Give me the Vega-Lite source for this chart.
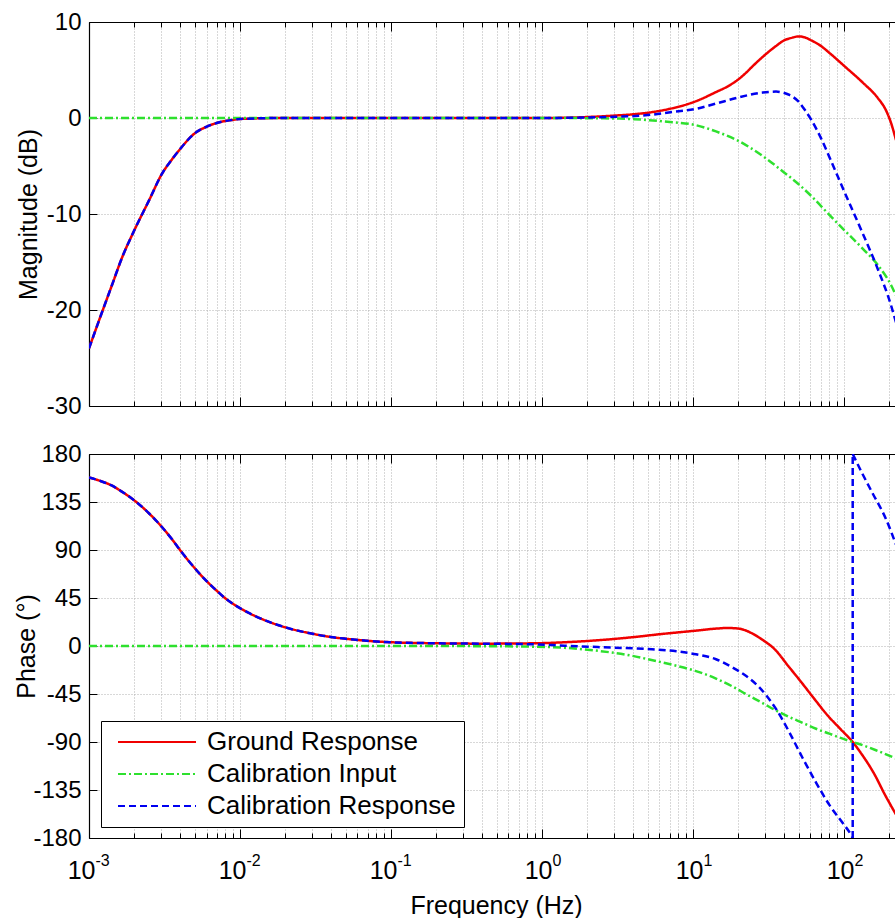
{
"$schema": "https://vega.github.io/schema/vega-lite/v6.json",
"padding": {"left": 14, "top": 10, "right": 0, "bottom": 0},
"bounds": "flush",
"spacing": 48,
"config": {
  "view": {"stroke": null},
  "font": "Liberation Sans",
  "axis": {"labelFont": "Liberation Sans", "titleFont": "Liberation Sans", "labelFontSize": 24, "titleFontSize": 25, "titleFontWeight": "normal", "labelColor": "#000", "titleColor": "#000", "tickColor": "#000", "domainColor": "#000", "domainWidth": 1.2, "tickWidth": 1, "gridColor": "#b0b0b0", "gridDash": [1, 2], "gridWidth": 1, "gridOpacity": 1, "labelFlush": false, "labelOverlap": false, "labelBound": false}
},
"resolve": {"legend": {"color": "independent", "strokeDash": "independent"}},
"datasets": {
"mag": [
{"s":"Ground Response","g":"a","i":0,"f":0.001,"v":-24.0},{"s":"Ground Response","g":"a","i":1,"f":0.0012023,"v":-20.5},{"s":"Ground Response","g":"a","i":2,"f":0.0014125,"v":-17.5},{"s":"Ground Response","g":"a","i":3,"f":0.0016596,"v":-14.5},{"s":"Ground Response","g":"a","i":4,"f":0.0019953,"v":-11.7},{"s":"Ground Response","g":"a","i":5,"f":0.0025119,"v":-8.5},{"s":"Ground Response","g":"a","i":6,"f":0.00302,"v":-5.9},{"s":"Ground Response","g":"a","i":7,"f":0.0035481,"v":-4.3},{"s":"Ground Response","g":"a","i":8,"f":0.0039811,"v":-3.3},{"s":"Ground Response","g":"a","i":9,"f":0.0050119,"v":-1.6},{"s":"Ground Response","g":"a","i":10,"f":0.0060256,"v":-0.9},{"s":"Ground Response","g":"a","i":11,"f":0.0070795,"v":-0.5},{"s":"Ground Response","g":"a","i":12,"f":0.0089125,"v":-0.2},{"s":"Ground Response","g":"a","i":13,"f":0.01,"v":-0.1},{"s":"Ground Response","g":"a","i":14,"f":0.019953,"v":0},{"s":"Ground Response","g":"a","i":15,"f":0.1,"v":0},{"s":"Ground Response","g":"a","i":16,"f":1,"v":0},{"s":"Ground Response","g":"a","i":17,"f":1.9953,"v":0.1},{"s":"Ground Response","g":"a","i":18,"f":3.02,"v":0.25},{"s":"Ground Response","g":"a","i":19,"f":3.9811,"v":0.38},{"s":"Ground Response","g":"a","i":20,"f":5.0119,"v":0.55},{"s":"Ground Response","g":"a","i":21,"f":6.7608,"v":0.9},{"s":"Ground Response","g":"a","i":22,"f":10.47,"v":1.75},{"s":"Ground Response","g":"a","i":23,"f":14.2,"v":2.7},{"s":"Ground Response","g":"a","i":24,"f":17,"v":3.3},{"s":"Ground Response","g":"a","i":25,"f":20.07,"v":4.05},{"s":"Ground Response","g":"a","i":26,"f":22.4,"v":4.7},{"s":"Ground Response","g":"a","i":27,"f":24.85,"v":5.4},{"s":"Ground Response","g":"a","i":28,"f":30.1,"v":6.6},{"s":"Ground Response","g":"a","i":29,"f":35.46,"v":7.5},{"s":"Ground Response","g":"a","i":30,"f":40.3,"v":8.1},{"s":"Ground Response","g":"a","i":31,"f":45,"v":8.35},{"s":"Ground Response","g":"a","i":32,"f":50.1,"v":8.5},{"s":"Ground Response","g":"a","i":33,"f":55,"v":8.4},{"s":"Ground Response","g":"a","i":34,"f":60.5,"v":8.1},{"s":"Ground Response","g":"a","i":35,"f":70.4,"v":7.5},{"s":"Ground Response","g":"a","i":36,"f":81.2,"v":6.7},{"s":"Ground Response","g":"a","i":37,"f":100.7,"v":5.4},{"s":"Ground Response","g":"a","i":38,"f":132.9,"v":3.7},{"s":"Ground Response","g":"a","i":39,"f":167.1,"v":2.1},{"s":"Ground Response","g":"a","i":40,"f":189.7,"v":0.8},{"s":"Ground Response","g":"a","i":41,"f":204.8,"v":-0.5},{"s":"Ground Response","g":"a","i":42,"f":221,"v":-2.3},
{"s":"Calibration Input","g":"a","i":0,"f":0.001,"v":0},{"s":"Calibration Input","g":"a","i":1,"f":0.01,"v":0},{"s":"Calibration Input","g":"a","i":2,"f":0.1,"v":0},{"s":"Calibration Input","g":"a","i":3,"f":1,"v":0},{"s":"Calibration Input","g":"a","i":4,"f":1.9953,"v":-0.02},{"s":"Calibration Input","g":"a","i":5,"f":3.1623,"v":-0.06},{"s":"Calibration Input","g":"a","i":6,"f":4.0738,"v":-0.12},{"s":"Calibration Input","g":"a","i":7,"f":6.7608,"v":-0.4},{"s":"Calibration Input","g":"a","i":8,"f":10.47,"v":-0.75},{"s":"Calibration Input","g":"a","i":9,"f":14.2,"v":-1.4},{"s":"Calibration Input","g":"a","i":10,"f":20.07,"v":-2.4},{"s":"Calibration Input","g":"a","i":11,"f":28.9,"v":-3.95},{"s":"Calibration Input","g":"a","i":12,"f":40.3,"v":-5.7},{"s":"Calibration Input","g":"a","i":13,"f":50.1,"v":-6.9},{"s":"Calibration Input","g":"a","i":14,"f":60.5,"v":-8.1},{"s":"Calibration Input","g":"a","i":15,"f":81.2,"v":-10.2},{"s":"Calibration Input","g":"a","i":16,"f":100.7,"v":-11.7},{"s":"Calibration Input","g":"a","i":17,"f":132.9,"v":-13.6},{"s":"Calibration Input","g":"a","i":18,"f":167.1,"v":-15.3},{"s":"Calibration Input","g":"a","i":19,"f":204.8,"v":-17.4},{"s":"Calibration Input","g":"a","i":20,"f":221,"v":-18.5},
{"s":"Calibration Response","g":"a","i":0,"f":0.001,"v":-24.0},{"s":"Calibration Response","g":"a","i":1,"f":0.0012023,"v":-20.5},{"s":"Calibration Response","g":"a","i":2,"f":0.0014125,"v":-17.5},{"s":"Calibration Response","g":"a","i":3,"f":0.0016596,"v":-14.5},{"s":"Calibration Response","g":"a","i":4,"f":0.0019953,"v":-11.7},{"s":"Calibration Response","g":"a","i":5,"f":0.0025119,"v":-8.5},{"s":"Calibration Response","g":"a","i":6,"f":0.00302,"v":-5.9},{"s":"Calibration Response","g":"a","i":7,"f":0.0035481,"v":-4.3},{"s":"Calibration Response","g":"a","i":8,"f":0.0039811,"v":-3.3},{"s":"Calibration Response","g":"a","i":9,"f":0.0050119,"v":-1.6},{"s":"Calibration Response","g":"a","i":10,"f":0.0060256,"v":-0.9},{"s":"Calibration Response","g":"a","i":11,"f":0.0070795,"v":-0.5},{"s":"Calibration Response","g":"a","i":12,"f":0.0089125,"v":-0.2},{"s":"Calibration Response","g":"a","i":13,"f":0.01,"v":-0.1},{"s":"Calibration Response","g":"a","i":14,"f":0.019953,"v":0},{"s":"Calibration Response","g":"a","i":15,"f":0.1,"v":0},{"s":"Calibration Response","g":"a","i":16,"f":1,"v":0},{"s":"Calibration Response","g":"a","i":17,"f":1.9953,"v":0.05},{"s":"Calibration Response","g":"a","i":18,"f":3.02,"v":0.12},{"s":"Calibration Response","g":"a","i":19,"f":5.0119,"v":0.3},{"s":"Calibration Response","g":"a","i":20,"f":7.0795,"v":0.6},{"s":"Calibration Response","g":"a","i":21,"f":10.47,"v":0.95},{"s":"Calibration Response","g":"a","i":22,"f":14.2,"v":1.5},{"s":"Calibration Response","g":"a","i":23,"f":20.07,"v":2.15},{"s":"Calibration Response","g":"a","i":24,"f":28.9,"v":2.65},{"s":"Calibration Response","g":"a","i":25,"f":35.46,"v":2.75},{"s":"Calibration Response","g":"a","i":26,"f":40.3,"v":2.6},{"s":"Calibration Response","g":"a","i":27,"f":43.5,"v":2.4},{"s":"Calibration Response","g":"a","i":28,"f":50.1,"v":1.7},{"s":"Calibration Response","g":"a","i":29,"f":55,"v":0.85},{"s":"Calibration Response","g":"a","i":30,"f":60.5,"v":-0.15},{"s":"Calibration Response","g":"a","i":31,"f":70.4,"v":-2.1},{"s":"Calibration Response","g":"a","i":32,"f":81.2,"v":-4.3},{"s":"Calibration Response","g":"a","i":33,"f":100.7,"v":-7.7},{"s":"Calibration Response","g":"a","i":34,"f":132.9,"v":-12.0},{"s":"Calibration Response","g":"a","i":35,"f":167.1,"v":-15.7},{"s":"Calibration Response","g":"a","i":36,"f":204.8,"v":-19.5},{"s":"Calibration Response","g":"a","i":37,"f":221,"v":-21.3}
],
"phase": [
{"s":"Ground Response","g":"a","i":0,"f":0.001,"v":158},{"s":"Ground Response","g":"a","i":1,"f":0.0012023,"v":154.5},{"s":"Ground Response","g":"a","i":2,"f":0.0014125,"v":150.5},{"s":"Ground Response","g":"a","i":3,"f":0.0016596,"v":144.5},{"s":"Ground Response","g":"a","i":4,"f":0.0019953,"v":136.5},{"s":"Ground Response","g":"a","i":5,"f":0.0025119,"v":124},{"s":"Ground Response","g":"a","i":6,"f":0.00302,"v":112},{"s":"Ground Response","g":"a","i":7,"f":0.0035481,"v":100},{"s":"Ground Response","g":"a","i":8,"f":0.0039811,"v":90.5},{"s":"Ground Response","g":"a","i":9,"f":0.0050119,"v":73},{"s":"Ground Response","g":"a","i":10,"f":0.0060256,"v":60.7},{"s":"Ground Response","g":"a","i":11,"f":0.0070795,"v":51.3},{"s":"Ground Response","g":"a","i":12,"f":0.0079433,"v":45},{"s":"Ground Response","g":"a","i":13,"f":0.0089125,"v":39.9},{"s":"Ground Response","g":"a","i":14,"f":0.01,"v":35.5},{"s":"Ground Response","g":"a","i":15,"f":0.014125,"v":25},{"s":"Ground Response","g":"a","i":16,"f":0.019953,"v":17.5},{"s":"Ground Response","g":"a","i":17,"f":0.0302,"v":11.5},{"s":"Ground Response","g":"a","i":18,"f":0.039811,"v":8.5},{"s":"Ground Response","g":"a","i":19,"f":0.050119,"v":6.8},{"s":"Ground Response","g":"a","i":20,"f":0.085114,"v":4.0},{"s":"Ground Response","g":"a","i":21,"f":0.18621,"v":2.6},{"s":"Ground Response","g":"a","i":22,"f":0.39811,"v":2.2},{"s":"Ground Response","g":"a","i":23,"f":0.85114,"v":2.5},{"s":"Ground Response","g":"a","i":24,"f":1.4125,"v":3.5},{"s":"Ground Response","g":"a","i":25,"f":2.3442,"v":5.4},{"s":"Ground Response","g":"a","i":26,"f":3.8905,"v":8.1},{"s":"Ground Response","g":"a","i":27,"f":6.166,"v":11.2},{"s":"Ground Response","g":"a","i":28,"f":10.47,"v":14.4},{"s":"Ground Response","g":"a","i":29,"f":14.2,"v":16.3},{"s":"Ground Response","g":"a","i":30,"f":17,"v":16.9},{"s":"Ground Response","g":"a","i":31,"f":20.07,"v":16.3},{"s":"Ground Response","g":"a","i":32,"f":22.4,"v":14.5},{"s":"Ground Response","g":"a","i":33,"f":24.85,"v":11.5},{"s":"Ground Response","g":"a","i":34,"f":28.6,"v":6.2},{"s":"Ground Response","g":"a","i":35,"f":35.0,"v":-3.5},{"s":"Ground Response","g":"a","i":36,"f":42.6,"v":-18.5},{"s":"Ground Response","g":"a","i":37,"f":52.2,"v":-34},{"s":"Ground Response","g":"a","i":38,"f":63.7,"v":-49.7},{"s":"Ground Response","g":"a","i":39,"f":77.8,"v":-65},{"s":"Ground Response","g":"a","i":40,"f":95,"v":-78},{"s":"Ground Response","g":"a","i":41,"f":114.2,"v":-90},{"s":"Ground Response","g":"a","i":42,"f":128.9,"v":-100},{"s":"Ground Response","g":"a","i":43,"f":158.7,"v":-120},{"s":"Ground Response","g":"a","i":44,"f":186,"v":-139},{"s":"Ground Response","g":"a","i":45,"f":221,"v":-158},
{"s":"Calibration Input","g":"a","i":0,"f":0.001,"v":0},{"s":"Calibration Input","g":"a","i":1,"f":0.01,"v":0},{"s":"Calibration Input","g":"a","i":2,"f":0.1,"v":0},{"s":"Calibration Input","g":"a","i":3,"f":0.31623,"v":-0.1},{"s":"Calibration Input","g":"a","i":4,"f":0.85114,"v":-0.6},{"s":"Calibration Input","g":"a","i":5,"f":1.4125,"v":-1.7},{"s":"Calibration Input","g":"a","i":6,"f":2.3442,"v":-4.5},{"s":"Calibration Input","g":"a","i":7,"f":3.8905,"v":-9},{"s":"Calibration Input","g":"a","i":8,"f":4.8978,"v":-12},{"s":"Calibration Input","g":"a","i":9,"f":6.166,"v":-15.2},{"s":"Calibration Input","g":"a","i":10,"f":7.7625,"v":-18.5},{"s":"Calibration Input","g":"a","i":11,"f":10.47,"v":-23.5},{"s":"Calibration Input","g":"a","i":12,"f":14.2,"v":-30.5},{"s":"Calibration Input","g":"a","i":13,"f":18.3,"v":-38},{"s":"Calibration Input","g":"a","i":14,"f":22.4,"v":-45},{"s":"Calibration Input","g":"a","i":15,"f":28.9,"v":-53.5},{"s":"Calibration Input","g":"a","i":16,"f":35.46,"v":-60.5},{"s":"Calibration Input","g":"a","i":17,"f":43.5,"v":-66.7},{"s":"Calibration Input","g":"a","i":18,"f":53.2,"v":-72},{"s":"Calibration Input","g":"a","i":19,"f":65.3,"v":-77.6},{"s":"Calibration Input","g":"a","i":20,"f":80,"v":-82.2},{"s":"Calibration Input","g":"a","i":21,"f":98.1,"v":-86.9},{"s":"Calibration Input","g":"a","i":22,"f":114.2,"v":-90},{"s":"Calibration Input","g":"a","i":23,"f":132.9,"v":-93},{"s":"Calibration Input","g":"a","i":24,"f":162.9,"v":-97.7},{"s":"Calibration Input","g":"a","i":25,"f":221,"v":-105.5},
{"s":"Calibration Response","g":"a","i":0,"f":0.001,"v":158},{"s":"Calibration Response","g":"a","i":1,"f":0.0012023,"v":154.5},{"s":"Calibration Response","g":"a","i":2,"f":0.0014125,"v":150.5},{"s":"Calibration Response","g":"a","i":3,"f":0.0016596,"v":144.5},{"s":"Calibration Response","g":"a","i":4,"f":0.0019953,"v":136.5},{"s":"Calibration Response","g":"a","i":5,"f":0.0025119,"v":124},{"s":"Calibration Response","g":"a","i":6,"f":0.00302,"v":112},{"s":"Calibration Response","g":"a","i":7,"f":0.0035481,"v":100},{"s":"Calibration Response","g":"a","i":8,"f":0.0039811,"v":90.5},{"s":"Calibration Response","g":"a","i":9,"f":0.0050119,"v":73},{"s":"Calibration Response","g":"a","i":10,"f":0.0060256,"v":60.7},{"s":"Calibration Response","g":"a","i":11,"f":0.0070795,"v":51.3},{"s":"Calibration Response","g":"a","i":12,"f":0.0079433,"v":45},{"s":"Calibration Response","g":"a","i":13,"f":0.0089125,"v":39.9},{"s":"Calibration Response","g":"a","i":14,"f":0.01,"v":35.5},{"s":"Calibration Response","g":"a","i":15,"f":0.014125,"v":25},{"s":"Calibration Response","g":"a","i":16,"f":0.019953,"v":17.5},{"s":"Calibration Response","g":"a","i":17,"f":0.0302,"v":11.5},{"s":"Calibration Response","g":"a","i":18,"f":0.039811,"v":8.5},{"s":"Calibration Response","g":"a","i":19,"f":0.050119,"v":6.8},{"s":"Calibration Response","g":"a","i":20,"f":0.085114,"v":4.0},{"s":"Calibration Response","g":"a","i":21,"f":0.18621,"v":2.6},{"s":"Calibration Response","g":"a","i":22,"f":0.39811,"v":2.2},{"s":"Calibration Response","g":"a","i":23,"f":0.85114,"v":1.6},{"s":"Calibration Response","g":"a","i":24,"f":1.4125,"v":0.3},{"s":"Calibration Response","g":"a","i":25,"f":2.3442,"v":-1.0},{"s":"Calibration Response","g":"a","i":26,"f":4.8978,"v":-2.8},{"s":"Calibration Response","g":"a","i":27,"f":7.7625,"v":-5},{"s":"Calibration Response","g":"a","i":28,"f":10.47,"v":-7.8},{"s":"Calibration Response","g":"a","i":29,"f":14.2,"v":-12.4},{"s":"Calibration Response","g":"a","i":30,"f":18.3,"v":-20.2},{"s":"Calibration Response","g":"a","i":31,"f":22.4,"v":-27.9},{"s":"Calibration Response","g":"a","i":32,"f":27.5,"v":-38.8},{"s":"Calibration Response","g":"a","i":33,"f":35.46,"v":-59},{"s":"Calibration Response","g":"a","i":34,"f":43.5,"v":-81},{"s":"Calibration Response","g":"a","i":35,"f":53.2,"v":-105},{"s":"Calibration Response","g":"a","i":36,"f":65.3,"v":-128},{"s":"Calibration Response","g":"a","i":37,"f":80,"v":-149},{"s":"Calibration Response","g":"a","i":38,"f":98.1,"v":-166},{"s":"Calibration Response","g":"a","i":39,"f":111.3,"v":-177},{"s":"Calibration Response","g":"a","i":40,"f":114.2,"v":-180},
{"s":"Calibration Response","g":"b","i":41,"f":114.2,"v":-180},{"s":"Calibration Response","g":"b","i":42,"f":114.2,"v":180},
{"s":"Calibration Response","g":"c","i":43,"f":114.2,"v":180},{"s":"Calibration Response","g":"c","i":44,"f":132.9,"v":161},{"s":"Calibration Response","g":"c","i":45,"f":154.9,"v":143},{"s":"Calibration Response","g":"c","i":46,"f":189.7,"v":119},{"s":"Calibration Response","g":"c","i":47,"f":221,"v":95}
]
},
"vconcat": [
{
  "width": 807, "height": 384,
  "data": {"name": "mag"},
  "resolve": {"axis": {"x": "independent", "y": "independent"}},
  "layer": [
    {
      "mark": {"type": "line", "strokeWidth": 2.5, "clip": true, "interpolate": "monotone"},
      "encoding": {
        "x": {"field": "f", "type": "quantitative", "scale": {"type": "log", "domain": [0.001, 221], "nice": false},
              "axis": {"orient": "bottom", "values": [0.001,0.002,0.003,0.004,0.005,0.006,0.007,0.008,0.009,0.01,0.02,0.03,0.04,0.05,0.06,0.07,0.08,0.09,0.1,0.2,0.3,0.4,0.5,0.6,0.7,0.8,0.9,1,2,3,4,5,6,7,8,9,10,20,30,40,50,60,70,80,90,100,200],
                       "grid": true, "labels": false, "title": null,
                       "tickSize": {"condition": {"test": "indexof([0.001,0.01,0.1,1,10,100], datum.value) >= 0", "value": -9}, "value": -5}}},
        "y": {"field": "v", "type": "quantitative", "scale": {"domain": [-30, 10], "nice": false, "zero": false},
              "axis": {"orient": "left", "values": [-30, -20, -10, 0, 10], "grid": true, "tickSize": -8, "labelPadding": 16, "labelExpr": "datum.value + ''",
                       "title": "Magnitude (dB)", "titleX": -61, "titleY": 192, "titleAngle": -90, "titleBaseline": "middle", "titleAlign": "center"}},
        "color": {"field": "s", "type": "nominal", "scale": {"domain": ["Ground Response", "Calibration Input", "Calibration Response"], "range": ["#f00000", "#2ee02e", "#0000f0"]}, "legend": null},
        "strokeDash": {"field": "s", "type": "nominal", "scale": {"domain": ["Ground Response", "Calibration Input", "Calibration Response"], "range": [[1, 0], [8, 3, 2, 3], [7, 4]]}, "legend": null},
        "detail": {"field": "g", "type": "nominal"},
        "order": {"field": "i", "type": "quantitative"}
      }
    },
    {
      "mark": {"type": "point", "opacity": 0},
      "encoding": {
        "x": {"field": "f", "type": "quantitative", "scale": {"type": "log", "domain": [0.001, 221], "nice": false},
              "axis": {"orient": "top", "values": [0.001,0.002,0.003,0.004,0.005,0.006,0.007,0.008,0.009,0.01,0.02,0.03,0.04,0.05,0.06,0.07,0.08,0.09,0.1,0.2,0.3,0.4,0.5,0.6,0.7,0.8,0.9,1,2,3,4,5,6,7,8,9,10,20,30,40,50,60,70,80,90,100,200],
                       "grid": false, "labels": false, "title": null,
                       "tickSize": {"condition": {"test": "indexof([0.001,0.01,0.1,1,10,100], datum.value) >= 0", "value": -9}, "value": -5}}},
        "y": {"field": "v", "type": "quantitative", "scale": {"domain": [-30, 10], "nice": false, "zero": false}, "axis": null}
      }
    }
  ]
},
{
  "width": 807, "height": 384,
  "data": {"name": "phase"},
  "resolve": {"axis": {"x": "independent", "y": "independent"}},
  "layer": [
    {
      "mark": {"type": "line", "strokeWidth": 2.5, "clip": true, "interpolate": "monotone"},
      "encoding": {
        "x": {"field": "f", "type": "quantitative", "scale": {"type": "log", "domain": [0.001, 221], "nice": false},
              "axis": {"orient": "bottom", "values": [0.001,0.002,0.003,0.004,0.005,0.006,0.007,0.008,0.009,0.01,0.02,0.03,0.04,0.05,0.06,0.07,0.08,0.09,0.1,0.2,0.3,0.4,0.5,0.6,0.7,0.8,0.9,1,2,3,4,5,6,7,8,9,10,20,30,40,50,60,70,80,90,100,200],
                       "grid": true, "labels": false,
                       "tickSize": {"condition": {"test": "indexof([0.001,0.01,0.1,1,10,100], datum.value) >= 0", "value": -9}, "value": -5},
                       "title": "Frequency (Hz)", "titleX": 407, "titleY": 67, "titleBaseline": "middle", "titleAlign": "center"}},
        "y": {"field": "v", "type": "quantitative", "scale": {"domain": [-180, 180], "nice": false, "zero": false},
              "axis": {"orient": "left", "values": [-180, -135, -90, -45, 0, 45, 90, 135, 180], "grid": true, "tickSize": -8, "labelPadding": 16, "labelExpr": "datum.value + ''",
                       "title": "Phase (°)", "titleX": -63, "titleY": 192, "titleAngle": -90, "titleBaseline": "middle", "titleAlign": "center"}},
        "color": {"field": "s", "type": "nominal", "scale": {"domain": ["Ground Response", "Calibration Input", "Calibration Response"], "range": ["#f00000", "#2ee02e", "#0000f0"]},
                  "legend": {"orient": "none", "legendX": 12, "legendY": 267, "title": null, "strokeColor": "#000", "fillColor": "#fff", "padding": 8,
                             "symbolType": "M-3.9,0H3.9", "symbolSize": 400, "symbolStrokeWidth": 2, "symbolOffset": 35, "labelOffset": 37,
                             "labelFontSize": 26, "labelFont": "Liberation Sans", "labelColor": "#000", "rowPadding": 6, "labelLimit": 500}},
        "strokeDash": {"field": "s", "type": "nominal", "scale": {"domain": ["Ground Response", "Calibration Input", "Calibration Response"], "range": [[1, 0], [8, 3, 2, 3], [7, 4]]},
                  "legend": {"orient": "none", "legendX": 12, "legendY": 267, "title": null, "strokeColor": "#000", "fillColor": "#fff", "padding": 8,
                             "symbolType": "M-3.9,0H3.9", "symbolSize": 400, "symbolStrokeWidth": 2, "symbolOffset": 35, "labelOffset": 37,
                             "labelFontSize": 26, "labelFont": "Liberation Sans", "labelColor": "#000", "rowPadding": 6, "labelLimit": 500}},
        "detail": {"field": "g", "type": "nominal"},
        "order": {"field": "i", "type": "quantitative"}
      }
    },
    {
      "mark": {"type": "point", "opacity": 0},
      "encoding": {
        "x": {"field": "f", "type": "quantitative", "scale": {"type": "log", "domain": [0.001, 221], "nice": false},
              "axis": {"orient": "top", "values": [0.001,0.002,0.003,0.004,0.005,0.006,0.007,0.008,0.009,0.01,0.02,0.03,0.04,0.05,0.06,0.07,0.08,0.09,0.1,0.2,0.3,0.4,0.5,0.6,0.7,0.8,0.9,1,2,3,4,5,6,7,8,9,10,20,30,40,50,60,70,80,90,100,200],
                       "grid": false, "labels": false, "title": null,
                       "tickSize": {"condition": {"test": "indexof([0.001,0.01,0.1,1,10,100], datum.value) >= 0", "value": -9}, "value": -5}}},
        "y": {"field": "v", "type": "quantitative", "scale": {"domain": [-180, 180], "nice": false, "zero": false}, "axis": null}
      }
    },
    {
      "mark": {"type": "point", "opacity": 0},
      "encoding": {
        "x": {"field": "f", "type": "quantitative", "scale": {"type": "log", "domain": [0.001, 221], "nice": false},
              "axis": {"orient": "bottom", "values": [0.001, 0.01, 0.1, 1, 10, 100], "ticks": false, "tickSize": 0, "domain": false, "grid": false, "title": null,
                       "labelExpr": "'10'", "labelAlign": "right", "labelBaseline": "middle", "labelPadding": 32, "labelFontSize": 25,
                       "labelOffset": {"condition": {"test": "datum.value < 1", "value": 6}, "value": 10}}},
        "y": {"field": "v", "type": "quantitative", "scale": {"domain": [-180, 180], "nice": false, "zero": false}, "axis": null}
      }
    },
    {
      "mark": {"type": "point", "opacity": 0},
      "encoding": {
        "x": {"field": "f", "type": "quantitative", "scale": {"type": "log", "domain": [0.001, 221], "nice": false},
              "axis": {"orient": "bottom", "values": [0.001, 0.01, 0.1, 1, 10, 100], "ticks": false, "tickSize": 0, "domain": false, "grid": false, "title": null,
                       "labelExpr": "'' + round(log(datum.value) / LN10)", "labelAlign": "left", "labelBaseline": "middle", "labelPadding": 22, "labelFontSize": 16,
                       "labelOffset": {"condition": {"test": "datum.value < 1", "value": 6}, "value": 10}}},
        "y": {"field": "v", "type": "quantitative", "scale": {"domain": [-180, 180], "nice": false, "zero": false}, "axis": null}
      }
    }
  ]
}
]
}
